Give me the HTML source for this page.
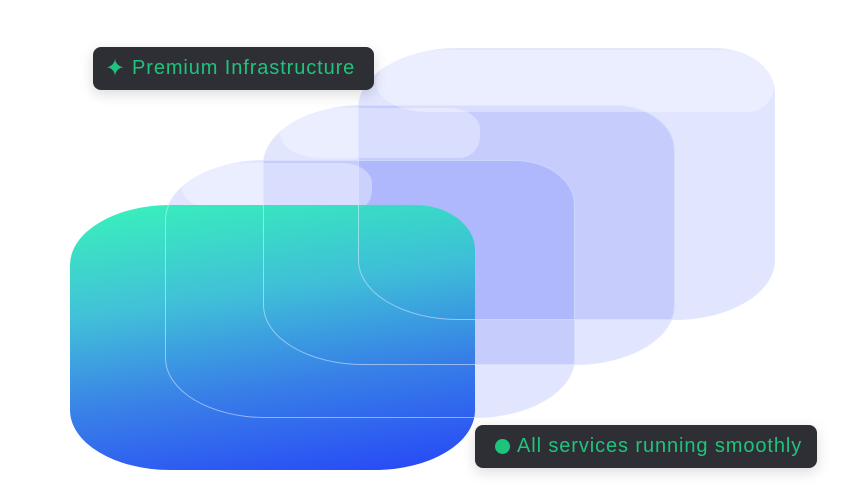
<!DOCTYPE html>
<html><head><style>
html,body{margin:0;padding:0;background:#fff;}
body{width:843px;height:498px;position:relative;overflow:hidden;font-family:"Liberation Sans",sans-serif;}
.l{position:absolute;box-sizing:border-box;border-radius:100px 60px 100px 100px / 60px 45px 60px 60px;}
.l1{left:70px;top:205px;width:405px;height:265px;background:linear-gradient(172deg,#2ef2b6 0%,#38bed6 35%,#2f7ae6 65%,#1b3cf7 100%);opacity:.95;}
.lx{mix-blend-mode:multiply;background:#e1e5fe;}
.ol{position:absolute;box-sizing:border-box;border:1.5px solid rgba(230,236,255,.55);border-radius:100px 60px 100px 100px / 60px 45px 60px 60px;}
.top{position:absolute;box-sizing:border-box;background:rgba(255,255,255,.35);border-radius:90px 60px 40px 80px / 50px 40px 40px 45px;}
.tag{position:absolute;background:#2e2e35;border-radius:8px;color:#1ec47c;font-size:20px;letter-spacing:.9px;display:flex;align-items:center;box-shadow:0 4px 14px rgba(0,0,0,.15);white-space:nowrap;}
</style></head><body>
<div class="l lx" style="left:165px;top:160px;width:410px;height:258px;"></div>
<div class="l lx" style="left:263px;top:105px;width:412px;height:260px;"></div>
<div class="l lx" style="left:358px;top:48px;width:417px;height:272px;"></div>
<div class="top" style="left:182px;top:163px;width:190px;height:48px;"></div>
<div class="top" style="left:280px;top:108px;width:200px;height:50px;"></div>
<div class="top" style="left:376px;top:50px;width:398px;height:62px;"></div>
<div class="l l1"></div>
<div class="ol" style="left:165px;top:160px;width:410px;height:258px;"></div>
<div class="ol" style="left:263px;top:105px;width:412px;height:260px;"></div>
<div class="ol" style="left:358px;top:48px;width:417px;height:272px;"></div>
<div class="tag" style="left:93px;top:47px;width:281px;height:43px;"><span style="margin-left:12px;font-size:24px;">✦</span><span style="margin-left:6px;">Premium Infrastructure</span></div>
<div class="tag" style="left:475px;top:425px;width:342px;height:43px;"><span style="margin-left:20px;width:15px;height:15px;border-radius:50%;background:#1ec47c;display:inline-block;"></span><span style="margin-left:7px;">All services running smoothly</span></div>
</body></html>
